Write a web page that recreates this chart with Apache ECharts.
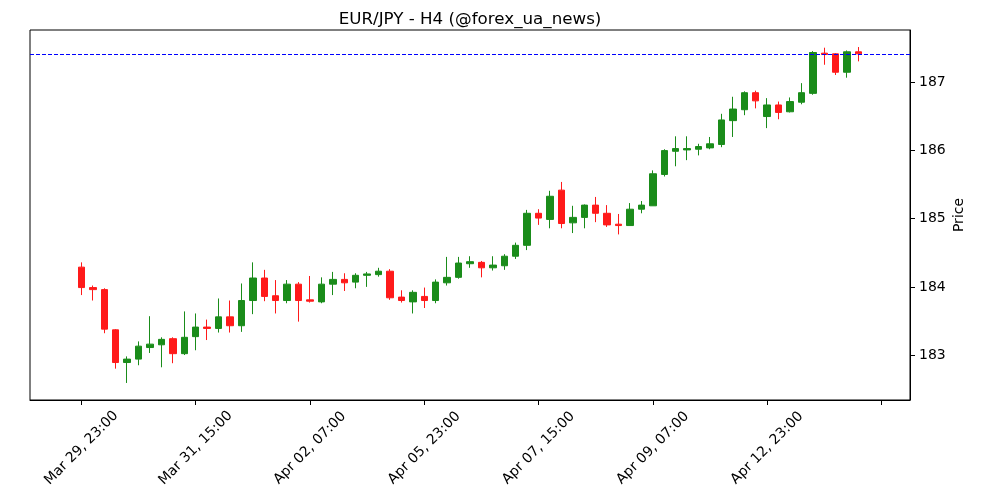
<!DOCTYPE html>
<html>
<head>
<meta charset="utf-8">
<title>EUR/JPY - H4</title>
<script src="https://cdn.jsdelivr.net/npm/echarts@6/dist/echarts.min.js"></script>
<style>
  html, body { margin: 0; padding: 0; background: #fff; }
  #chart { width: 1000px; height: 500px; }
</style>
</head>
<body>
<div id="chart"></div>
<script>
// H4 candle times
const times = [
  'Mar 29, 23:00', 'Mar 30, 03:00', 'Mar 30, 07:00', 'Mar 30, 11:00', 'Mar 30, 15:00', 'Mar 30, 19:00',
  'Mar 30, 23:00', 'Mar 31, 03:00', 'Mar 31, 07:00', 'Mar 31, 11:00', 'Mar 31, 15:00', 'Mar 31, 19:00',
  'Mar 31, 23:00', 'Apr 01, 03:00', 'Apr 01, 07:00', 'Apr 01, 11:00', 'Apr 01, 15:00', 'Apr 01, 19:00',
  'Apr 01, 23:00', 'Apr 02, 03:00', 'Apr 02, 07:00', 'Apr 02, 11:00', 'Apr 02, 15:00', 'Apr 02, 19:00',
  'Apr 02, 23:00', 'Apr 03, 03:00', 'Apr 03, 07:00', 'Apr 03, 11:00', 'Apr 03, 15:00', 'Apr 03, 19:00',
  'Apr 05, 23:00', 'Apr 06, 03:00', 'Apr 06, 07:00', 'Apr 06, 11:00', 'Apr 06, 15:00', 'Apr 06, 19:00',
  'Apr 06, 23:00', 'Apr 07, 03:00', 'Apr 07, 07:00', 'Apr 07, 11:00', 'Apr 07, 15:00', 'Apr 07, 19:00',
  'Apr 07, 23:00', 'Apr 08, 03:00', 'Apr 08, 07:00', 'Apr 08, 11:00', 'Apr 08, 15:00', 'Apr 08, 19:00',
  'Apr 08, 23:00', 'Apr 09, 03:00', 'Apr 09, 07:00', 'Apr 09, 11:00', 'Apr 09, 15:00', 'Apr 09, 19:00',
  'Apr 09, 23:00', 'Apr 10, 03:00', 'Apr 10, 07:00', 'Apr 10, 11:00', 'Apr 10, 15:00', 'Apr 10, 19:00',
  'Apr 12, 23:00', 'Apr 13, 03:00', 'Apr 13, 07:00', 'Apr 13, 11:00', 'Apr 13, 15:00', 'Apr 13, 19:00',
  'Apr 13, 23:00', 'Apr 14, 03:00', 'Apr 14, 07:00'
]

const opens = [
  184.29, 183.99, 183.96, 183.37, 182.89, 182.94, 183.11, 183.15, 183.24, 183.02,
  183.27, 183.41, 183.39, 183.56, 183.43, 183.80, 184.13, 183.87, 183.80, 184.04,
  183.81, 183.78, 184.04, 184.11, 184.07, 184.17, 184.18, 184.23, 183.85, 183.78,
  183.86, 183.80, 184.06, 184.14, 184.34, 184.36, 184.28, 184.31, 184.45, 184.61,
  185.08, 184.99, 185.42, 184.94, 185.02, 185.20, 185.08, 184.92, 184.90, 185.14,
  185.19, 185.65, 185.99, 186.01, 186.02, 186.04, 186.09, 186.44, 186.60, 186.85,
  186.50, 186.67, 186.57, 186.71, 186.84, 187.43, 187.42, 187.15, 187.45
]
const closes = [
  183.99, 183.96, 183.38, 182.89, 182.94, 183.13, 183.16, 183.23, 183.02, 183.26,
  183.41, 183.39, 183.56, 183.43, 183.80, 184.13, 183.86, 183.80, 184.04, 183.80,
  183.79, 184.04, 184.11, 184.06, 184.17, 184.19, 184.23, 183.84, 183.80, 183.92,
  183.80, 184.07, 184.14, 184.35, 184.37, 184.28, 184.32, 184.45, 184.61, 185.08,
  185.01, 185.33, 184.93, 185.02, 185.20, 185.08, 184.91, 184.90, 185.14, 185.20,
  185.66, 186.00, 186.03, 186.03, 186.06, 186.10, 186.45, 186.61, 186.85, 186.73,
  186.67, 186.56, 186.72, 186.85, 187.44, 187.41, 187.15, 187.45, 187.42
]
const lows = [
  183.88, 183.80, 183.32, 182.80, 182.59, 182.85, 183.03, 182.82, 182.88, 183.00,
  183.07, 183.22, 183.33, 183.33, 183.34, 183.60, 183.79, 183.61, 183.76, 183.49,
  183.77, 183.76, 183.88, 183.94, 183.98, 184.00, 184.15, 183.81, 183.77, 183.61,
  183.69, 183.76, 184.02, 184.12, 184.28, 184.14, 184.24, 184.25, 184.41, 184.54,
  184.91, 184.86, 184.86, 184.79, 184.86, 184.95, 184.88, 184.77, 184.90, 185.08,
  185.19, 185.62, 185.77, 185.86, 185.93, 186.02, 186.05, 186.20, 186.52, 186.62,
  186.33, 186.46, 186.56, 186.68, 186.82, 187.26, 187.11, 187.07, 187.31
]
const highs = [
  184.36, 184.02, 183.98, 183.38, 182.98, 183.20, 183.57, 183.26, 183.26, 183.64,
  183.61, 183.52, 183.83, 183.80, 184.05, 184.36, 184.25, 184.10, 184.10, 184.07,
  184.16, 184.14, 184.22, 184.20, 184.20, 184.22, 184.28, 184.26, 183.95, 183.95,
  183.99, 184.11, 184.44, 184.44, 184.45, 184.38, 184.45, 184.48, 184.65, 185.13,
  185.14, 185.41, 185.54, 185.19, 185.21, 185.32, 185.20, 185.07, 185.23, 185.26,
  185.71, 186.02, 186.21, 186.21, 186.10, 186.20, 186.54, 186.79, 186.87, 186.88,
  186.77, 186.72, 186.78, 186.99, 187.46, 187.51, 187.43, 187.47, 187.52
]

const priceTicks = [183, 184, 185, 186, 187]
const lastPrice = closes[closes.length - 1]

// empty slots on both sides, like the matplotlib x margins
const PAD = 4
const STEP = 10

const categories = []
const ohlc = []
for (let i = 0; i < PAD; i++) { categories.push(''); ohlc.push('-') }
times.forEach((t, i) => {
  categories.push(t)
  ohlc.push([opens[i], closes[i], lows[i], highs[i]])
})
for (let i = 0; i < PAD; i++) { categories.push(''); ohlc.push('-') }

const UP = '#1a8c1a'
const DOWN = '#ff1a1a'
const FONT = 'DejaVu Sans'

const chart = echarts.init(document.getElementById('chart'), null, { renderer: 'canvas' })

const option = {
  animation: false,
  backgroundColor: '#fff',
  textStyle: { fontFamily: FONT },
  title: {
    text: 'EUR/JPY - H4 (@forex_ua_news)',
    left: 465,
    textAlign: 'center',
    top: 6,
    textStyle: { fontFamily: FONT, fontSize: 16.7, fontWeight: 'normal', color: '#000' }
  },
  grid: {
    left: 30,
    right: 90,
    top: 30,
    bottom: 100,
    show: true,
    borderColor: '#000',
    borderWidth: 1,
    backgroundColor: 'transparent'
  },
  xAxis: {
    type: 'category',
    data: categories,
    boundaryGap: true,
    axisLine: { show: true, lineStyle: { color: '#000', width: 1 } },
    axisTick: {
      show: true,
      alignWithLabel: true,
      length: 5,
      lineStyle: { color: '#000' },
      interval: (idx) => idx >= PAD && (idx - PAD) % STEP === 0
    },
    axisLabel: {
      interval: (idx, val) => val !== '' && (idx - PAD) % STEP === 0,
      rotate: 45,
      align: 'center',
      verticalAlign: 'middle',
      margin: 48,
      color: '#000',
      fontSize: 14,
      fontFamily: FONT
    },
    splitLine: { show: false }
  },
  yAxis: {
    type: 'value',
    position: 'right',
    min: 182.34,
    max: 187.77,
    name: 'Price',
    nameLocation: 'middle',
    nameRotate: 90,
    nameGap: 42,
    nameMoveOverlap: false,
    nameTextStyle: { color: '#000', fontSize: 14, fontFamily: FONT },
    axisLine: { show: true, lineStyle: { color: '#000', width: 1 } },
    axisTick: { show: true, length: 5, lineStyle: { color: '#000' }, customValues: priceTicks },
    axisLabel: { color: '#000', fontSize: 14, fontFamily: FONT, margin: 9, customValues: priceTicks },
    splitLine: { show: false }
  },
  series: [
    {
      name: 'EUR/JPY',
      type: 'candlestick',
      data: ohlc,
      barWidth: 7,
      itemStyle: {
        color: UP,
        color0: DOWN,
        borderColor: UP,
        borderColor0: DOWN,
        borderWidth: 1
      },
      markLine: {
        silent: true,
        symbol: ['none', 'none'],
        label: { show: false },
        lineStyle: { color: '#0000ff', type: [4, 2], width: 1 },
        data: [{ yAxis: lastPrice }]
      }
    }
  ]
}

chart.setOption(option)
</script>
</body>
</html>
